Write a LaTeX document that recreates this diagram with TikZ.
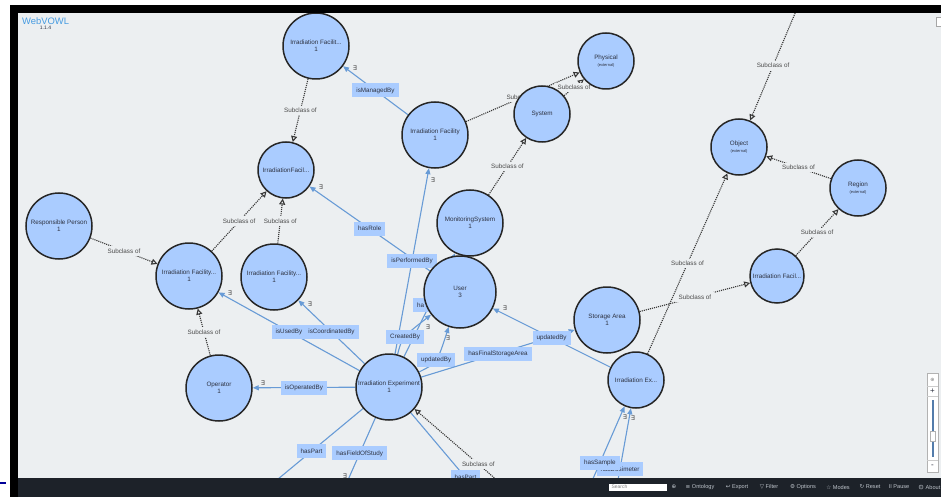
\documentclass[tikz,border=0pt]{standalone}
\usepackage{fontspec}
\setmainfont{Liberation Sans}
\newfontfamily\symfont{DejaVu Sans}
\usetikzlibrary{arrows.meta}

\definecolor{canvas}{RGB}{236,239,241}
\definecolor{barbg}{RGB}{29,34,41}
\definecolor{clsfill}{RGB}{170,204,255}
\definecolor{ringline}{RGB}{38,38,38}
\definecolor{propline}{RGB}{104,155,214}
\definecolor{subline}{RGB}{55,55,55}
\definecolor{txt}{RGB}{45,50,65}
\definecolor{subtxt}{RGB}{75,75,75}
\definecolor{titleblue}{RGB}{70,155,225}
\definecolor{bartxt}{RGB}{190,196,203}

\pgfdeclarelayer{back}
\pgfdeclarelayer{edges}
\pgfdeclarelayer{front}
\pgfsetlayers{back,edges,main,front}

\begin{document}
\begin{tikzpicture}[x=1pt, y=-1pt,
    cls/.style={circle, draw=ringline, line width=1.5pt, fill=clsfill, inner sep=0pt,
        align=center, text=txt, font=\fontsize{6.3}{7.4}\selectfont},
    sub/.style={draw=subline, line width=1.1pt, densely dotted,
        -{Triangle[open, fill=canvas, length=6pt, width=6pt]}},
    subof/.style={fill=canvas, inner sep=2.5pt, text=subtxt, font=\fontsize{6.3}{7.4}\selectfont},
    prop/.style={draw=propline, line width=1.1pt, -{Triangle[length=6pt, width=5pt]}},
    plbl/.style={fill=clsfill, inner xsep=4pt, inner ysep=0pt, minimum height=14pt,
        text=txt, font=\fontsize{6.3}{7.4}\selectfont},
    exq/.style={inner sep=0pt, text=subtxt, font=\symfont\fontsize{6.5}{7}\selectfont},
    baritem/.style={inner sep=0pt, text=bartxt, font=\fontsize{5.6}{6.5}\selectfont}]

    \useasboundingbox (0,0) rectangle (941,497);

    % canvas
    \begin{pgfonlayer}{back}
        \fill[canvas] (18,13) rectangle (941,478);
    \end{pgfonlayer}

    % title
    \node[anchor=west, inner sep=0pt, text=titleblue, font=\fontsize{9.4}{10}\selectfont] (title) at (22,21) {WebVOWL};
    \node[inner sep=0pt, text=txt, font=\fontsize{5}{6}\selectfont] (version) at (45.5,28) {1.1.4};

    % classes
    \node[cls, minimum size=66pt] (facManaged) at (316,46) {Irradiation Facilit...\\1};
    \node[cls, minimum size=56pt] (facRole) at (286,170) {IrradiationFacil...};
    \node[cls, minimum size=66pt] (person) at (59,226) {Responsible Person\\1};
    \node[cls, minimum size=66pt] (facUsed) at (189,276) {Irradiation Facility...\\1};
    \node[cls, minimum size=66pt] (facCoord) at (274,277) {Irradiation Facility...\\1};
    \node[cls, minimum size=66pt] (operator) at (219,388) {Operator\\1};
    \node[cls, minimum size=66pt] (facility) at (435,135) {Irradiation Facility\\1};
    \node[cls, minimum size=56pt] (system) at (542,114) {System};
    \node[cls, minimum size=56pt] (physical) at (606,61) {Physical\\{\fontsize{4}{5}\selectfont(external)}};
    \node[cls, minimum size=56pt] (object) at (739,147) {Object\\{\fontsize{4}{5}\selectfont(external)}};
    \node[cls, minimum size=56pt] (region) at (858,188) {Region\\{\fontsize{4}{5}\selectfont(external)}};
    \node[cls, minimum size=54pt] (facRegion) at (777,276) {Irradiation Facil...};
    \node[cls, minimum size=66pt] (monitor) at (470,223) {MonitoringSystem\\1};
    \node[cls, minimum size=72pt] (user) at (460,292) {User\\3};
    \node[cls, minimum size=66pt] (storage) at (607,320) {Storage Area\\1};
    \node[cls, minimum size=66pt] (experiment) at (389,387) {Irradiation Experiment\\1};
    \node[cls, minimum size=56pt] (expShort) at (636,380) {Irradiation Ex...};

    % ends outside the view
    \coordinate (objTop) at (796,11);
    \coordinate (expBottom) at (542,519);
    \coordinate (partLeft) at (260,494);
    \coordinate (fieldEnd) at (344,489);
    \coordinate (partRight) at (520,542);
    \coordinate (sampleStart) at (575,520);
    \coordinate (dosiStart) at (609,530);

    \begin{pgfonlayer}{edges}
        % subclass links
        \draw[sub] (facManaged) -- node[subof] (s1) {Subclass of} (facRole);
        \draw[sub] (facUsed) -- node[subof] (s2) {Subclass of} (facRole);
        \draw[sub] (facCoord) -- node[subof] (s3) {Subclass of} (facRole);
        \draw[sub] (person) -- node[subof] (s4) {Subclass of} (facUsed);
        \draw[sub] (operator) -- node[subof] (s5) {Subclass of} (facUsed);
        \draw[sub] (facility) -- node[subof] (s6) {Subclass of} (physical);
        \draw[sub] (system) -- node[subof] (s7) {Subclass of} (physical);
        \draw[sub] (monitor) -- node[subof] (s8) {Subclass of} (system);
        \draw[sub] (objTop) -- node[subof] (s9) {Subclass of} (object);
        \draw[sub] (region) -- node[subof] (s10) {Subclass of} (object);
        \draw[sub] (facRegion) -- node[subof] (s11) {Subclass of} (region);
        \draw[sub] (storage) -- node[subof] (s12) {Subclass of} (facRegion);
        \draw[sub] (expShort) -- node[subof] (s13) {Subclass of} (object);
        \draw[sub] (expBottom) -- node[subof] (s14) {Subclass of} (experiment);

        % object properties
        \draw[prop] (facility) -- node[plbl] (pManaged) {isManagedBy} (facManaged);
        \draw[prop] (user) -- node[plbl] (pRole) {hasRole} (facRole);
        \draw[prop] (experiment) -- node[plbl] (pPerformed) {isPerformedBy} (facility);
        \draw[prop] (experiment) -- node[plbl, text width=25pt, align=left] (pHa) {ha} (monitor);
        \draw[prop] (experiment) .. controls (402,337.5) .. node[plbl] (pCreated) {CreatedBy} (user);
        \draw[prop] (experiment) .. controls (437,363) .. node[plbl] (pUpdatedLow) {updatedBy} (user);
        \draw[prop] (experiment) -- node[plbl] (pUsed) {isUsedBy} (facUsed);
        \draw[prop] (experiment) -- node[plbl] (pCoord) {isCoordinatedBy} (facCoord);
        \draw[prop] (experiment) -- node[plbl] (pOperated) {isOperatedBy} (operator);
        \draw[prop] (experiment) -- node[plbl] (pStorage) {hasFinalStorageArea} (storage);
        \draw[prop] (expShort) -- node[plbl] (pUpdatedUp) {updatedBy} (user);
        \draw[prop] (experiment) -- node[plbl] (pPartL) {hasPart} (partLeft);
        \draw[prop] (experiment) -- node[plbl] (pField) {hasFieldOfStudy} (fieldEnd);
        \draw[prop] (experiment) -- node[plbl] (pPartR) {hasPart} (partRight);
        \draw[prop] (dosiStart) -- node[plbl] (pDosi) {hasDosimeter} (expShort);
        \draw[prop] (sampleStart) -- node[plbl] (pSample) {hasSample} (expShort);

        % restrictions
        \node[exq] (e1) at (355,68) {∃};
        \node[exq] (e2) at (321,187) {∃};
        \node[exq] (e3) at (433,180) {∃};
        \node[exq] (e4) at (428,327) {∃};
        \node[exq] (e5) at (448,338) {∃};
        \node[exq] (e6) at (505,308) {∃};
        \node[exq] (e7) at (230,293) {∃};
        \node[exq] (e8) at (310,304) {∃};
        \node[exq] (e9) at (263,383) {∃};
        \node[exq] (e10) at (345,476) {∃};
        \node[exq] (e11) at (625,417) {∃};
        \node[exq] (e12) at (633,418) {∃};
    \end{pgfonlayer}

    % zoom slider
    \draw[gray!60, fill=white] (927,373) rectangle (938,472);
    \draw[gray!40] (927,386) -- (938,386) (927,396) -- (938,396) (927,460) -- (938,460);
    \node[inner sep=0pt, text=gray, font=\symfont\fontsize{5}{6}\selectfont] (center) at (932.5,380) {⊕};
    \node[inner sep=0pt, text=txt, font=\fontsize{8}{8}\selectfont] (zoomIn) at (932.5,391) {+};
    \node[inner sep=0pt, text=txt, font=\fontsize{8}{8}\selectfont] (zoomOut) at (932.5,466) {-};
    \draw[line width=2pt, propline!80!black] (932.5,400) -- (932.5,457);
    \draw[gray!60, fill=white] (930,431) rectangle (935,441);
    \draw[gray!70, fill=white] (936,17) rectangle (945,26);

    % frame and menu bar
    \begin{pgfonlayer}{front}
        \fill[white] (0,0) rectangle (941,5);
        \fill[white] (0,0) rectangle (10,497);
        \fill[black] (10,5) rectangle (941,13);
        \fill[black] (10,5) rectangle (18,497);
        \fill[barbg] (18,478) rectangle (941,497);
        \draw[line width=1.5pt, blue!60!black] (0,483) -- (6,483);
        \node[fill=white, anchor=west, inner sep=0pt, minimum width=58pt, minimum height=7pt,
            text width=55pt, align=left, text=gray, font=\fontsize{5}{6}\selectfont] (search) at (609,487) {\,Search};
        \foreach \xpos/\lbl [count=\i] in {674/{\symfont ⊕}, 700/{{\symfont ≡} Ontology},
                737/{{\symfont ↩} Export}, 769/{{\symfont ▽} Filter}, 803/{{\symfont ⚙} Options},
                838/{{\symfont ☆} Modes}, 870/{{\symfont ↻} Reset}, 899/{II Pause}}
            \node[baritem] (bar\i) at (\xpos,487) {\lbl};
        % info sign drawn as a small ring
        \node[circle, draw=bartxt, line width=0.4pt, inner sep=0.4pt, text=bartxt,
            font=\fontsize{4}{4}\selectfont] (info) at (921,487) {i};
        \node[baritem, anchor=west] (about) at (925.5,487) {About};
    \end{pgfonlayer}
\end{tikzpicture}
\end{document}
